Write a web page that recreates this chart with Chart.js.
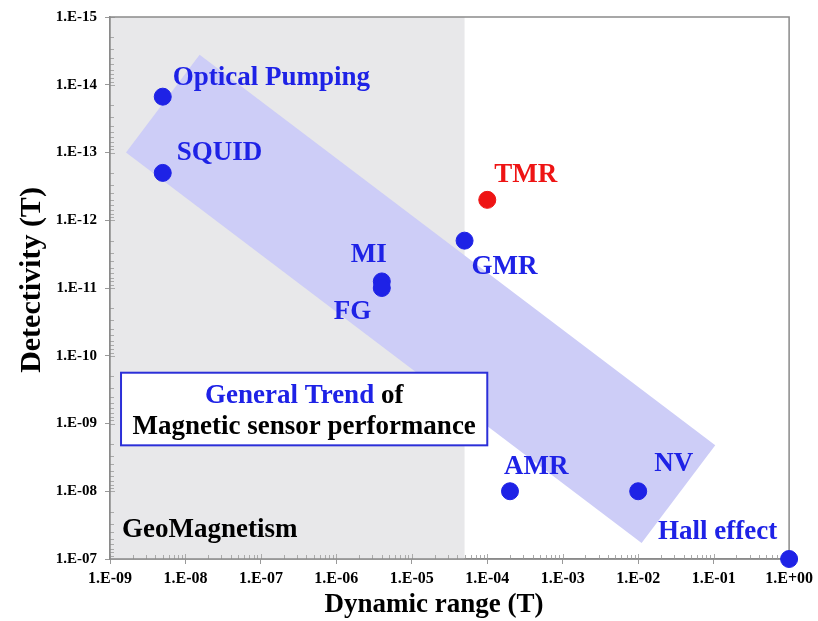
<!DOCTYPE html>
<html>
<head>
<meta charset="utf-8">
<script src="https://cdn.jsdelivr.net/npm/chart.js@4.4.1/dist/chart.umd.min.js"></script>
<style>
  html, body { margin: 0; padding: 0; background: #fff; }
  #wrap { width: 818px; height: 621px; }
</style>
</head>
<body>
<div id="wrap"><canvas id="sensores"></canvas></div>
<script>
// Sensores (faixa dinamica x detectividade, ambos em Tesla)
var nomes    = ['Optical Pumping', 'SQUID', 'MI', 'FG', 'GMR', 'AMR', 'NV', 'Hall effect'];
var faixa    = [5e-9, 5e-9, 4e-6, 4e-6, 5e-5, 2e-4, 1e-2, 1];
var detect   = [1.5e-14, 2e-13, 8e-12, 1e-11, 2e-12, 1e-8, 1e-8, 1e-7];

// TMR fica separado (vermelho)
var nomesTmr  = ['TMR'];
var faixaTmr  = [1e-4];
var detectTmr = [5e-13];

// Ticks das escalas
var ticksX = [1e-9, 1e-8, 1e-7, 1e-6, 1e-5, 1e-4, 1e-3, 1e-2, 1e-1, 1];
var ticksY = [1e-15, 1e-14, 1e-13, 1e-12, 1e-11, 1e-10, 1e-9, 1e-8, 1e-7];

// Regiao de geomagnetismo (ate 5E-05 T) e faixa da tendencia geral
var limiteGeo = 5e-5;
var faixaTendX = [1.63e-9, 1.54e-8, 1.05e-1, 1.11e-2];
var faixaTendY = [1e-13, 3.6e-15, 2.1e-9, 5.8e-8];

// Deslocamento dos rotulos (px) em relacao ao ponto
var deslocRotulos = {
	'Optical Pumping': [10, -12],
	'SQUID': [14, -13],
	'MI': [-31, -19],
	'FG': [-48, 31],
	'GMR': [7, 33],
	'TMR': [7, -18],
	'AMR': [-6, -17],
	'NV': [16, -20],
	'Hall effect': [-131, -20]
};

var AZUL = '#1e22e6';
var VERMELHO = '#ee1414';
var FONTE = '"Liberation Serif", "Times New Roman", serif';

function rotuloPot(v) {
	var e = Math.round(Math.log10(v));
	var s = e < 0 ? '-' : '+';
	var n = Math.abs(e);
	return '1.E' + s + (n < 10 ? '0' + n : n);
}

function pontos(xs, ys) {
	var p = [];
	for (var i = 0; i < xs.length; i++) {
		p.push({ x: xs[i], y: ys[i] });
	}
	return p;
}

// Fundo: area cinza, faixa azul e moldura
var fundo = {
	id: 'fundo',
	beforeDatasetsDraw: function(chart) {
		var c = chart.ctx, a = chart.chartArea;
		var sx = chart.scales.x, sy = chart.scales.y;
		c.save();
		c.fillStyle = '#e8e8ea';
		var xg = sx.getPixelForValue(limiteGeo);
		c.fillRect(a.left, a.top, xg - a.left, a.bottom - a.top);

		c.fillStyle = '#cdcdf7';
		c.beginPath();
		for (var i = 0; i < faixaTendX.length; i++) {
			var px = sx.getPixelForValue(faixaTendX[i]);
			var py = sy.getPixelForValue(faixaTendY[i]);
			if (i === 0) c.moveTo(px, py); else c.lineTo(px, py);
		}
		c.closePath();
		c.fill();

		// ticks menores para dentro
		c.strokeStyle = '#aaa';
		c.lineWidth = 1;
		c.beginPath();
		for (var d = 0; d < ticksX.length - 1; d++) {
			for (var k = 1; k <= 9; k++) {
				var x = Math.round(sx.getPixelForValue(ticksX[d] * k)) + 0.5;
				c.moveTo(x, a.bottom);
				c.lineTo(x, a.bottom - (k === 1 ? 5 : 4));
			}
		}
		for (var d2 = 0; d2 < ticksY.length - 1; d2++) {
			for (var k2 = 1; k2 <= 9; k2++) {
				var y = Math.round(sy.getPixelForValue(ticksY[d2] * k2)) + 0.5;
				c.moveTo(a.left, y);
				c.lineTo(a.left + (k2 === 1 ? 5 : 4), y);
			}
		}
		c.stroke();

		// moldura
		c.strokeStyle = '#8a8a8a';
		c.lineWidth = 1.5;
		c.strokeRect(a.left, a.top, a.right - a.left, a.bottom - a.top);
		c.restore();
	}
};

// Rotulos, caixa de texto e titulos dos eixos
var textos = {
	id: 'textos',
	afterDatasetsDraw: function(chart) {
		var c = chart.ctx, a = chart.chartArea;
		var sx = chart.scales.x, sy = chart.scales.y;
		c.save();
		c.font = 'bold 27px ' + FONTE;
		c.textBaseline = 'alphabetic';
		c.textAlign = 'left';

		function escreve(lista, xs, ys, cor) {
			c.fillStyle = cor;
			for (var i = 0; i < lista.length; i++) {
				var d = deslocRotulos[lista[i]];
				c.fillText(lista[i], sx.getPixelForValue(xs[i]) + d[0], sy.getPixelForValue(ys[i]) + d[1]);
			}
		}
		escreve(nomes, faixa, detect, AZUL);
		escreve(nomesTmr, faixaTmr, detectTmr, VERMELHO);

		// caixa "General Trend of ..."
		var bx0 = sx.getPixelForValue(1.4e-9), bx1 = sx.getPixelForValue(1e-4);
		var by0 = sy.getPixelForValue(1.78e-10), by1 = sy.getPixelForValue(2.1e-9);
		c.fillStyle = '#fff';
		c.fillRect(bx0, by0, bx1 - bx0, by1 - by0);
		c.strokeStyle = '#2b2fd8';
		c.lineWidth = 2;
		c.strokeRect(bx0, by0, bx1 - bx0, by1 - by0);

		var meio = (bx0 + bx1) / 2;
		var t1 = 'General Trend', t2 = ' of';
		var w1 = c.measureText(t1).width, w2 = c.measureText(t2).width;
		var x1 = meio - (w1 + w2) / 2;
		c.fillStyle = AZUL;
		c.fillText(t1, x1, by0 + 30);
		c.fillStyle = '#000';
		c.fillText(t2, x1 + w1, by0 + 30);
		c.textAlign = 'center';
		c.fillText('Magnetic sensor performance', meio, by0 + 61);

		c.textAlign = 'left';
		c.fillText('GeoMagnetism', a.left + 12, a.bottom - 22);

		// titulos dos eixos
		c.textAlign = 'center';
		c.fillText('Dynamic range (T)', 434, 612);
		c.save();
		c.translate(40, 280);
		c.rotate(-Math.PI / 2);
		c.font = 'bold 30px ' + FONTE;
		c.fillText('Detectivity (T)', 0, 0);
		c.restore();
		c.restore();
	}
};

let ctx = document.getElementById('sensores');
let chart = new Chart(ctx, {
	type: 'scatter',
	data: {
		datasets: [{
			label: 'Sensores',
			data: pontos(faixa, detect),
			backgroundColor: AZUL,
			borderColor: AZUL,
			pointRadius: 8.5,
			pointHoverRadius: 8.5,
			clip: false
		}, {
			label: 'TMR',
			data: pontos(faixaTmr, detectTmr),
			backgroundColor: VERMELHO,
			borderColor: VERMELHO,
			pointRadius: 8.5,
			pointHoverRadius: 8.5,
			clip: false
		}]
	},
	options: {
		responsive: true,
		maintainAspectRatio: false,
		animation: false,
		layout: { padding: { top: 15, right: 26, left: 0, bottom: 0 } },
		plugins: {
			legend: { display: false },
			tooltip: { enabled: false }
		},
		scales: {
			x: {
				type: 'logarithmic',
				min: 1e-9,
				max: 1,
				afterBuildTicks: function(scale) {
					scale.ticks = ticksX.map(function(v) { return { value: v }; });
				},
				afterFit: function(scale) { scale.height = 62; },
				ticks: {
					autoSkip: false,
					maxRotation: 0,
					padding: 5,
					color: '#000',
					font: { family: FONTE, size: 16, weight: 'bold' },
					callback: function(v) { return rotuloPot(v); }
				},
				grid: { drawOnChartArea: false, tickLength: 5, color: '#999' },
				border: { color: '#8a8a8a', width: 1.5 }
			},
			y: {
				type: 'logarithmic',
				reverse: true,
				min: 1e-15,
				max: 1e-7,
				afterBuildTicks: function(scale) {
					scale.ticks = ticksY.map(function(v) { return { value: v }; });
				},
				afterFit: function(scale) { scale.width = 110; },
				ticks: {
					autoSkip: false,
					padding: 8,
					color: '#000',
					font: { family: FONTE, size: 15, weight: 'bold' },
					callback: function(v) { return rotuloPot(v); }
				},
				grid: { drawOnChartArea: false, tickLength: 5, color: '#999' },
				border: { color: '#8a8a8a', width: 1.5 }
			}
		}
	},
	plugins: [fundo, textos]
});
</script>
</body>
</html>
